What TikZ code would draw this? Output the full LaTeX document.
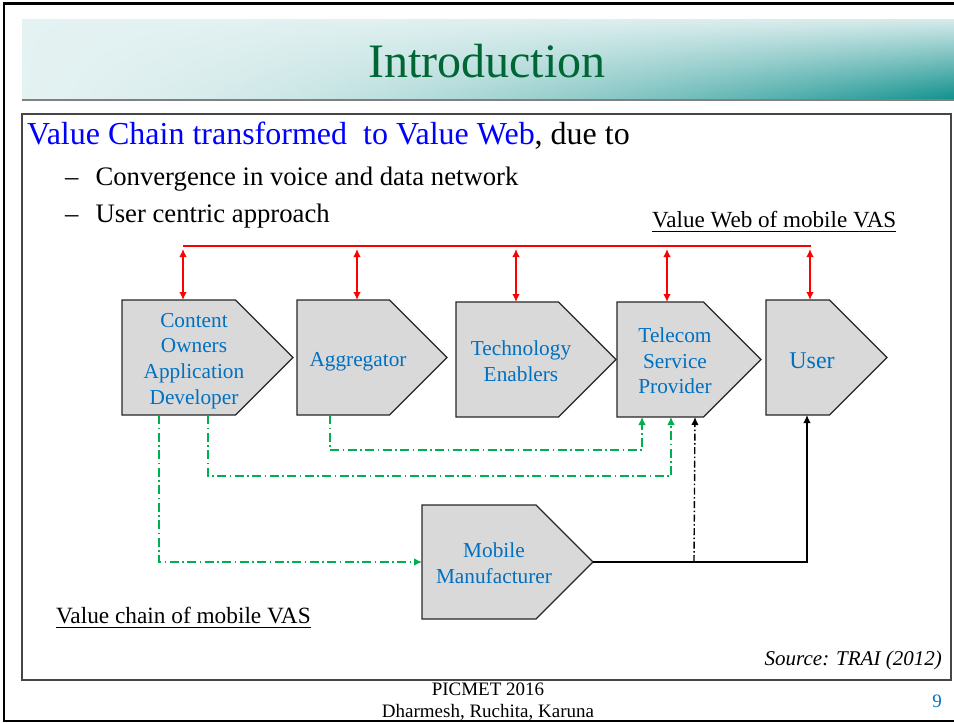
\documentclass[tikz,border=0pt]{standalone}
\usepackage{fontspec}
\setmainfont{Liberation Serif}
\usetikzlibrary{arrows.meta,positioning,shapes.symbols,fadings,shadings}

\definecolor{titlegreen}{RGB}{0,102,51}
\definecolor{bannerlight}{RGB}{228,242,242}
\definecolor{bannertop}{RGB}{214,235,235}
\definecolor{bannerteal}{RGB}{14,144,140}
\definecolor{stagefill}{RGB}{217,217,217}
\definecolor{stageblue}{RGB}{0,112,192}
\definecolor{webred}{RGB}{255,0,0}
\definecolor{chaingreen}{RGB}{0,176,80}
\definecolor{framegray}{RGB}{70,70,70}
\tikzfading[name=bannerfade, left color=transparent!0, right color=transparent!100]

\begin{document}
\begin{tikzpicture}[
  x=1pt, y=-1pt,
  stage/.style={signal, signal to=east, signal pointer angle=90,
                draw=black!85, fill=stagefill, line width=1.2pt,
                inner sep=0pt, outer sep=0pt, anchor=north west},
  stagetxt/.style={text=stageblue, align=center, inner sep=0pt,
                   font=\fontsize{21.3}{25.6}\selectfont},
  txt/.style={inner sep=0pt, anchor=base west},
  web/.style={draw=webred, line width=1.4pt},
  webarr/.style={web, {Latex[length=8pt,width=7.5pt]}-{Latex[length=8pt,width=7.5pt]}},
  chain/.style={draw=chaingreen, line width=1.1pt,
                dash pattern=on 9pt off 3.5pt on 1.5pt off 3.5pt,
                -{Latex[length=8pt,width=7.5pt]}},
  mfr/.style={draw=black, line width=1.4pt, -{Latex[length=8pt,width=7.5pt]}},
  mfrdash/.style={mfr, dash pattern=on 7pt off 2.5pt on 1.5pt off 2.5pt}
]
\useasboundingbox (0,0) rectangle (954,723);

% slide frame and title banner
\draw[line width=2.5pt] (4,3.5) rectangle (960,721);
\shade[upper left=bannerlight, lower left=bannerlight,
       upper right=bannertop, lower right=bannerteal]
  (22,19) rectangle (954,100);
\fill[bannerlight, path fading=bannerfade, fill opacity=0.85] (22,19) rectangle (954,100);
\draw[gray, line width=1.2pt] (22,100) -- (954,100);
\node[font=\fontsize{48}{48}\selectfont, text=titlegreen, inner sep=0pt, anchor=base]
  (title) at (487,77) {Introduction};
\draw[framegray, line width=1.2pt] (22,114) rectangle (951,680);

% bullet text
\node[txt, font=\fontsize{32}{32}\selectfont] (lead) at (27,144)
  {\textcolor{blue}{Value Chain transformed\ \ to Value Web}, due to};
\node[txt, font=\fontsize{26.7}{26.7}\selectfont] (pt1) at (65,185)
  {–\hspace{17pt}Convergence in voice and data network};
\node[txt, font=\fontsize{26.7}{26.7}\selectfont] (pt2) at (65,222)
  {–\hspace{17pt}User centric approach};
\node[txt, font=\fontsize{23.1}{23.1}\selectfont] (webcap) at (652,227)
  {Value Web of mobile VAS};
\node[txt, font=\fontsize{23.3}{23.3}\selectfont] (chaincap) at (56,623)
  {Value chain of mobile VAS};
\draw[line width=1.7pt] ([yshift=-4.5pt]webcap.base west) -- ([yshift=-4.5pt]webcap.base east);
\draw[line width=1.7pt] ([yshift=-4.5pt]chaincap.base west) -- ([yshift=-4.5pt]chaincap.base east);

% stages
\node[stage, minimum width=171pt, minimum height=115pt] (cowner) at (122,300) {};
\node[stage, minimum width=150pt, minimum height=115pt] (aggr)   at (297,300) {};
\node[stage, minimum width=160pt, minimum height=115pt] (techen) at (456,302) {};
\node[stage, minimum width=144pt, minimum height=115pt] (telsp)  at (617,302) {};
\node[stage, minimum width=121pt, minimum height=115pt] (user)   at (766,300) {};
\node[stage, minimum width=171pt, minimum height=114pt] (mobile) at (422,505) {};

\node[stagetxt] (cownertxt) at (194,361) {Content\\Owners\\Application\\Developer};
\node[stagetxt] (aggrtxt)   at (358,362) {Aggregator};
\node[stagetxt] (techentxt) at (521,361) {Technology\\Enablers};
\node[stagetxt] (telsptxt)  at (675,361) {Telecom\\Service\\Provider};
\node[stagetxt, font=\fontsize{24}{24}\selectfont] (usertxt) at (812,361) {User};
\node[stagetxt] (mobiletxt) at (494,563) {Mobile\\Manufacturer};

% value web
\coordinate (webl) at (183,246);
\coordinate (webr) at (811,246);
\draw[web] (webl) -- (webr);
\draw[webarr] ([xshift=61pt]cowner.north west) -- ++(0,-51);
\draw[webarr] ([xshift=60pt]aggr.north west) -- ++(0,-51);
\draw[webarr] ([xshift=60pt]techen.north west) -- ++(0,-53);
\draw[webarr] ([xshift=50pt]telsp.north west) -- ++(0,-53);
\draw[webarr] ([xshift=44pt]user.north west) -- ++(0,-51);

% value chain
\draw[chain] ([xshift=37pt]cowner.south west) |- (mobile.west);
\draw[chain] ([xshift=86pt]cowner.south west) -- ++(0,61) -| ([xshift=54pt]telsp.south west);
\draw[chain] ([xshift=33pt]aggr.south west) -- ++(0,35) -| ([xshift=25pt]telsp.south west);
\draw[mfr] (mobile.east) -| ([xshift=41pt]user.south west);
\draw[mfrdash] ([xshift=101pt]mobile.east) -- ([xshift=78pt]telsp.south west);

% source and footer
\node[inner sep=0pt, anchor=base east, font=\itshape\fontsize{21}{21}\selectfont]
  (source) at (942,665) {Source: TRAI (2012)};
\node[inner sep=0pt, anchor=base, font=\fontsize{19}{19}\selectfont] (conf) at (488,695) {PICMET 2016};
\node[inner sep=0pt, anchor=base, font=\fontsize{19}{19}\selectfont] (authors) at (488,717)
  {Dharmesh, Ruchita, Karuna};
\node[inner sep=0pt, anchor=base, text=stageblue, font=\fontsize{19}{19}\selectfont]
  (pageno) at (937,707) {9};
\end{tikzpicture}
\end{document}
